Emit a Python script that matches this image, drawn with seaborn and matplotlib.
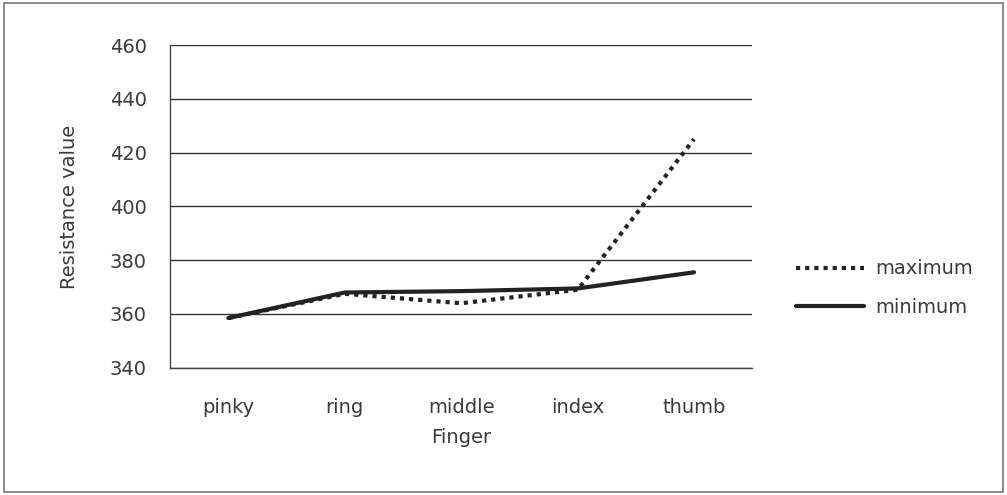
import numpy as np
import pandas as pd
import matplotlib
matplotlib.use("Agg")
import matplotlib.pyplot as plt
import seaborn as sns

# ── Data ──────────────────────────────────────────────────────────────────────
fingers = ["pinky", "ring", "middle", "index", "thumb"]
maximum = [358.5, 367.5, 364, 369, 425]
minimum = [358.5, 368, 368.5, 369.5, 375.5]

df = pd.DataFrame({
    "Finger": fingers * 2,
    "pos": list(range(len(fingers))) * 2,
    "value": maximum + minimum,
    "series": ["maximum"] * len(fingers) + ["minimum"] * len(fingers),
})

TXT = "#3a3a3a"
LINE = "#222222"
FS = 14

sns.set_style("white")
plt.rcParams["font.family"] = ["DejaVu Sans"]

fig = plt.figure(figsize=(10.07, 4.95), dpi=100)
ax = fig.add_axes([0.169, 0.257, 0.578, 0.652])

sns.lineplot(data=df, x="pos", y="value", style="series", ax=ax,
             color=LINE, linewidth=3.0,
             dashes={"maximum": (1, 1.2), "minimum": ""},
             legend=False)

ax.set_xlim(-0.5, len(fingers) - 0.5)
ax.set_ylim(340, 460)
ax.set_yticks(np.arange(340, 461, 20))
ax.set_xticks(range(len(fingers)))
ax.set_xticklabels(fingers)
ax.grid(axis="y", color="#333333", linewidth=1.0)
ax.grid(axis="x", visible=False)
ax.set_axisbelow(True)

for s in ["top", "right"]:
    ax.spines[s].set_visible(False)
for s in ["left", "bottom"]:
    ax.spines[s].set_color("#444444")
    ax.spines[s].set_linewidth(1.0)
ax.tick_params(axis="y", length=5, color="#555555", labelsize=FS,
               labelcolor=TXT, pad=12)
ax.tick_params(axis="x", length=0, labelsize=FS, labelcolor=TXT, pad=22)

ax.set_xlabel("Finger", fontsize=FS, color=TXT, labelpad=8)
ax.set_ylabel("Resistance value", fontsize=FS, color=TXT, labelpad=22)

# legend on the right, Excel style
handles = [
    plt.Line2D([], [], color=LINE, linewidth=3.0, dashes=(1, 1.2)),
    plt.Line2D([], [], color=LINE, linewidth=3.0),
]
fig.legend(handles, ["maximum", "minimum"], loc="center left",
           bbox_to_anchor=(0.773, 0.418), frameon=False, fontsize=FS,
           labelcolor=TXT, handlelength=3.5, handletextpad=0.6,
           labelspacing=1.0)

# outer chart border
fig.patches.append(plt.Rectangle((0.004, 0.006), 0.992, 0.988,
                                 transform=fig.transFigure, fill=False,
                                 edgecolor="#777777", linewidth=1.2))

plt.savefig("out.png", dpi=100)
plt.close()
